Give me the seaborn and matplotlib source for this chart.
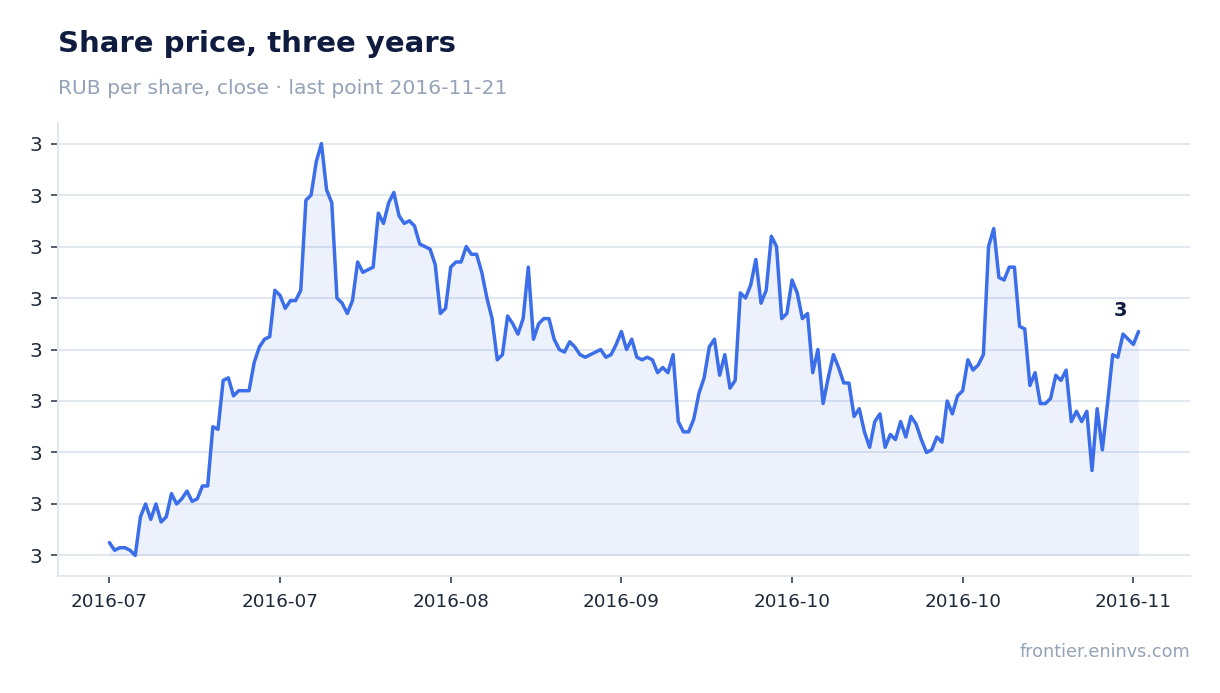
import numpy as np
import pandas as pd
import matplotlib
matplotlib.use("Agg")
import matplotlib.pyplot as plt
import matplotlib.ticker as mticker
import seaborn as sns

# ---- data ----
close_values = [
    2.925, 2.922, 2.923, 2.923, 2.922, 2.920, 2.935, 2.940, 2.934, 2.940,
    2.933, 2.935, 2.944, 2.940, 2.942, 2.945, 2.941, 2.942, 2.947, 2.947,
    2.970, 2.969, 2.988, 2.989, 2.982, 2.984, 2.984, 2.984, 2.995, 3.001,
    3.004, 3.005, 3.023, 3.021, 3.016, 3.019, 3.019, 3.023, 3.058, 3.060,
    3.073, 3.080, 3.062, 3.057, 3.020, 3.018, 3.014, 3.019, 3.034, 3.030,
    3.031, 3.032, 3.053, 3.049, 3.057, 3.061, 3.052, 3.049, 3.050, 3.048,
    3.041, 3.040, 3.039, 3.033, 3.014, 3.016, 3.032, 3.034, 3.034, 3.040,
    3.037, 3.037, 3.030, 3.020, 3.012, 2.996, 2.998, 3.013, 3.010, 3.006,
    3.012, 3.032, 3.004, 3.010, 3.012, 3.012, 3.004, 3.000, 2.999, 3.003,
    3.001, 2.998, 2.997, 2.998, 2.999, 3.000, 2.997, 2.998, 3.002, 3.007,
    3.000, 3.004, 2.997, 2.996, 2.997, 2.996, 2.991, 2.993, 2.991, 2.998,
    2.972, 2.968, 2.968, 2.973, 2.983, 2.989, 3.001, 3.004, 2.990, 2.998,
    2.985, 2.988, 3.022, 3.020, 3.025, 3.035, 3.018, 3.023, 3.044, 3.040,
    3.012, 3.014, 3.027, 3.022, 3.012, 3.014, 2.991, 3.000, 2.979, 2.989,
    2.998, 2.993, 2.987, 2.987, 2.974, 2.977, 2.968, 2.962, 2.972, 2.975,
    2.962, 2.967, 2.965, 2.972, 2.966, 2.974, 2.971, 2.965, 2.960, 2.961,
    2.966, 2.964, 2.980, 2.975, 2.982, 2.984, 2.996, 2.992, 2.994, 2.998,
    3.040, 3.047, 3.028, 3.027, 3.032, 3.032, 3.009, 3.008, 2.986, 2.991,
    2.979, 2.979, 2.981, 2.990, 2.988, 2.992, 2.972, 2.976, 2.972, 2.976,
    2.953, 2.977, 2.961, 2.979, 2.998, 2.997, 3.006, 3.004, 3.002, 3.007,
]
point_index = list(range(len(close_values)))
tick_positions = [0, 33, 66, 99, 132, 165, 198]
tick_labels = ["2016-07", "2016-07", "2016-08", "2016-09", "2016-10", "2016-10", "2016-11"]
y_ticks = [2.92, 2.94, 2.96, 2.98, 3.00, 3.02, 3.04, 3.06, 3.08]
last_label = "3"

title_text = "Share price, three years"
subtitle_text = "RUB per share, close \u00b7 last point 2016-11-21"
source_text = "frontier.eninvs.com"

df = pd.DataFrame({"idx": point_index, "close": close_values})

# ---- style ----
sns.set_theme(style="white")
plt.rcParams["font.family"] = ["DejaVu Sans"]

LINE = "#3b6ee8"
NAVY = "#0f1c3f"
GREY = "#94a3b8"
GRID = "#e2e8f0"
TICK_TXT = "#1e293b"

fig = plt.figure(figsize=(12.2, 6.93), dpi=100)
ax = fig.add_axes([0.0475, 0.1688, 0.9279, 0.6537])

sns.lineplot(data=df, x="idx", y="close", ax=ax, color=LINE, linewidth=2.5, zorder=3)
ax.fill_between(df["idx"], df["close"], df["close"].min(), color=LINE, alpha=0.09,
                linewidth=0, zorder=2)

ax.set_xticks(tick_positions)
ax.set_xticklabels(tick_labels)
ax.set_yticks(y_ticks)
ax.yaxis.set_major_formatter(mticker.StrMethodFormatter("{x:.0f}"))
ax.margins(x=0.05, y=0.05)

ax.set_xlabel("")
ax.set_ylabel("")
ax.grid(axis="y", color=GRID, linewidth=1.4, zorder=0)
ax.grid(axis="x", visible=False)

for side in ["top", "right"]:
    ax.spines[side].set_visible(False)
for side in ["left", "bottom"]:
    ax.spines[side].set_color(GRID)
    ax.spines[side].set_linewidth(1.4)

ax.tick_params(axis="y", which="major", length=5, width=1.2, color="#334155",
               labelsize=14.5, labelcolor=TICK_TXT, pad=6, left=True)
ax.tick_params(axis="x", which="major", length=5, width=1.2, color="#334155",
               labelsize=13.2, labelcolor=TICK_TXT, pad=7, bottom=True)

# last point annotation
ax.annotate(last_label, xy=(point_index[-1], close_values[-1]), xytext=(-18, 21),
            textcoords="offset pixels", ha="center", va="center",
            fontsize=14, fontweight="bold", color=NAVY)

fig.text(58 / 1220, 1 - 44 / 693, title_text, fontsize=21, fontweight="bold",
         color=NAVY, ha="left", va="center")
fig.text(58 / 1220, 1 - 88 / 693, subtitle_text, fontsize=14.6, color=GREY,
         ha="left", va="center")
fig.text(1190 / 1220, 1 - 652 / 693, source_text, fontsize=12.7, color=GREY,
         ha="right", va="center")

fig.savefig("out.png", dpi=100)
